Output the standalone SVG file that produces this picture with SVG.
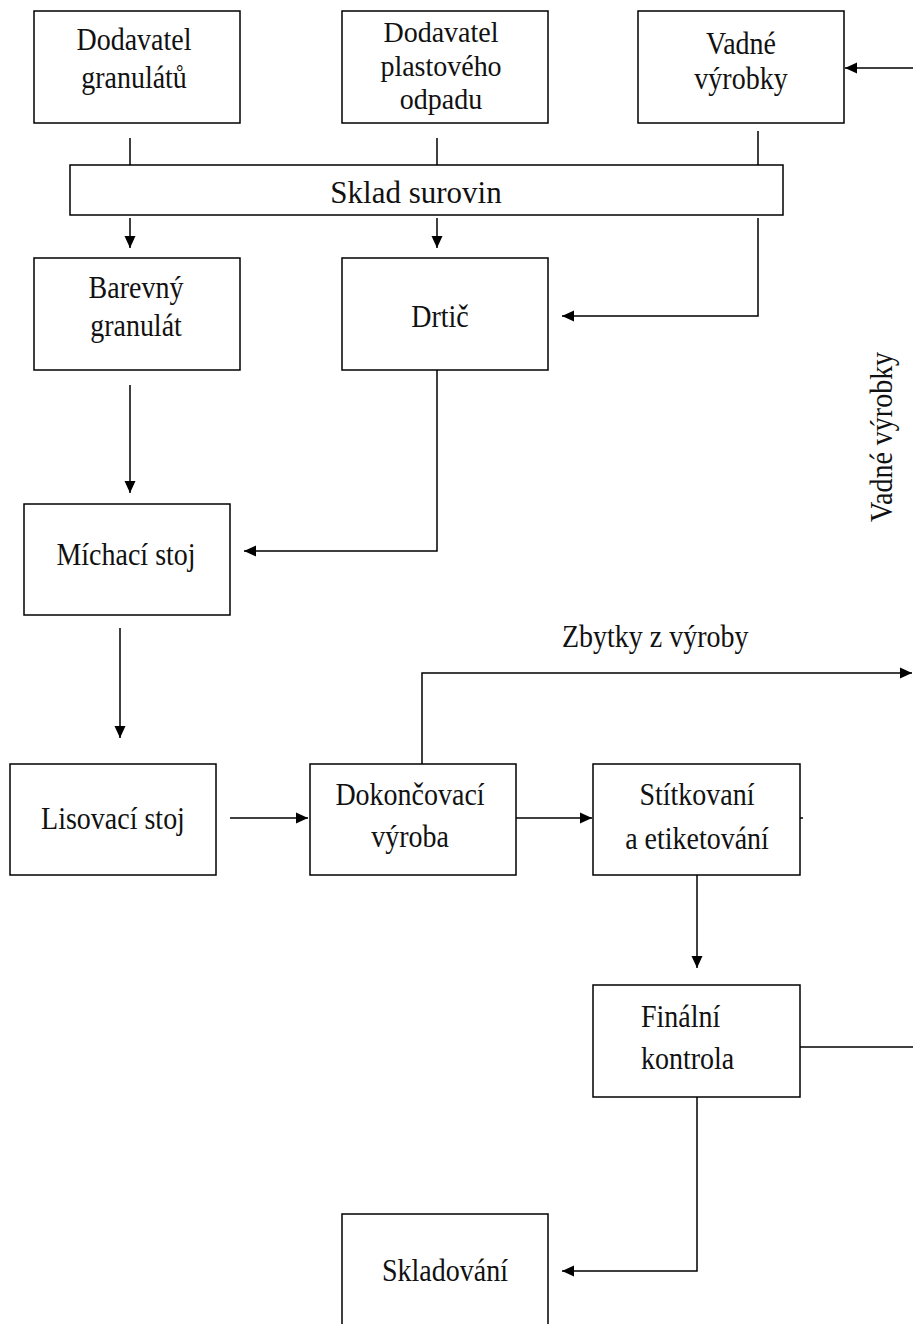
<svg xmlns="http://www.w3.org/2000/svg" width="913" height="1324" viewBox="0 0 913 1324">
<style>
  .box{fill:#fff;stroke:#000;stroke-width:1.5}
  .t{font-family:"Liberation Serif","Times New Roman",serif;font-size:28px;fill:#111;text-anchor:middle}
  .s{text-anchor:start}
  .c{fill:none;stroke:#000;stroke-width:1.5}
</style>
<defs>
  <marker id="ah" markerUnits="userSpaceOnUse" markerWidth="14" markerHeight="14" refX="12" refY="7" orient="auto">
    <path d="M0,1.5 L12,7 L0,12.5 z" fill="#000"/>
  </marker>
</defs>
<rect width="913" height="1324" fill="#fff"/>
<g id="connectors">
  <path class="c" d="M913,68 H845" marker-end="url(#ah)"/>
  <path class="c" d="M130,138 V165"/>
  <path class="c" d="M437,138 V165"/>
  <path class="c" d="M758,131 V165"/>
  <path class="c" d="M130,218 V248" marker-end="url(#ah)"/>
  <path class="c" d="M437,218 V248" marker-end="url(#ah)"/>
  <path class="c" d="M758,218 V316 H562" marker-end="url(#ah)"/>
  <path class="c" d="M130,385 V493" marker-end="url(#ah)"/>
  <path class="c" d="M437,370 V551 H244" marker-end="url(#ah)"/>
  <path class="c" d="M120,628 V738" marker-end="url(#ah)"/>
  <path class="c" d="M230,818 H308" marker-end="url(#ah)"/>
  <path class="c" d="M516,818 H592" marker-end="url(#ah)"/>
  <path class="c" d="M422,764 V673 H912" marker-end="url(#ah)"/>
  <path class="c" d="M800,818 H803"/>
  <path class="c" d="M697,875 V968" marker-end="url(#ah)"/>
  <path class="c" d="M800,1047 H913"/>
  <path class="c" d="M697,1097 V1271 H562" marker-end="url(#ah)"/>
  <text class="t s" transform="translate(562,647) scale(1,1.15)">Zbytky z výroby</text>
  <text class="t" transform="translate(892,437) rotate(-90) scale(1,1.1)">Vadné výrobky</text>
</g>
<g id="n-dodavatel-granulatu">
  <rect class="box" x="34" y="11" width="206" height="112"/>
  <text class="t" transform="translate(134,50) scale(1,1.15)">Dodavatel</text>
  <text class="t" transform="translate(134,88) scale(1,1.15)">granulátů</text>
</g>
<g id="n-dodavatel-odpadu">
  <rect class="box" x="342" y="11" width="206" height="112"/>
  <text class="t" transform="translate(441,42) scale(1,1.05)">Dodavatel</text>
  <text class="t" transform="translate(441,76) scale(1,1.05)">plastového</text>
  <text class="t" transform="translate(441,109) scale(1,1.05)">odpadu</text>
</g>
<g id="n-vadne-vyrobky">
  <rect class="box" x="638" y="11" width="206" height="112"/>
  <text class="t" transform="translate(741,54) scale(1,1.15)">Vadné</text>
  <text class="t" transform="translate(741,89) scale(1,1.15)">výrobky</text>
</g>
<g id="n-sklad-surovin">
  <rect class="box" x="70" y="165" width="713" height="50"/>
  <text class="t" transform="translate(416,203) scale(1,1.05)" style="font-size:31px">Sklad surovin</text>
</g>
<g id="n-barevny-granulat">
  <rect class="box" x="34" y="258" width="206" height="112"/>
  <text class="t" transform="translate(136,298) scale(1,1.15)">Barevný</text>
  <text class="t" transform="translate(136,336) scale(1,1.15)">granulát</text>
</g>
<g id="n-drtic">
  <rect class="box" x="342" y="258" width="206" height="112"/>
  <text class="t" transform="translate(440,327) scale(1,1.15)">Drtič</text>
</g>
<g id="n-michaci-stoj">
  <rect class="box" x="24" y="504" width="206" height="111"/>
  <text class="t" transform="translate(126,565) scale(1,1.15)">Míchací stoj</text>
</g>
<g id="n-lisovaci-stoj">
  <rect class="box" x="10" y="764" width="206" height="111"/>
  <text class="t" transform="translate(113,829) scale(1,1.15)">Lisovací stoj</text>
</g>
<g id="n-dokoncovaci-vyroba">
  <rect class="box" x="310" y="764" width="206" height="111"/>
  <text class="t" transform="translate(410,805) scale(1,1.15)">Dokončovací</text>
  <text class="t" transform="translate(410,847) scale(1,1.15)">výroba</text>
</g>
<g id="n-stitkovani">
  <rect class="box" x="593" y="764" width="207" height="111"/>
  <text class="t" transform="translate(697,805) scale(1,1.15)">Stítkovaní</text>
  <text class="t" transform="translate(697,849) scale(1,1.15)">a etiketování</text>
</g>
<g id="n-finalni-kontrola">
  <rect class="box" x="593" y="985" width="207" height="112"/>
  <text class="t s" transform="translate(641,1027) scale(1,1.15)">Finální</text>
  <text class="t s" transform="translate(641,1069) scale(1,1.15)">kontrola</text>
</g>
<g id="n-skladovani">
  <rect class="box" x="342" y="1214" width="206" height="120"/>
  <text class="t" transform="translate(445,1281) scale(1,1.15)">Skladování</text>
</g>
</svg>
